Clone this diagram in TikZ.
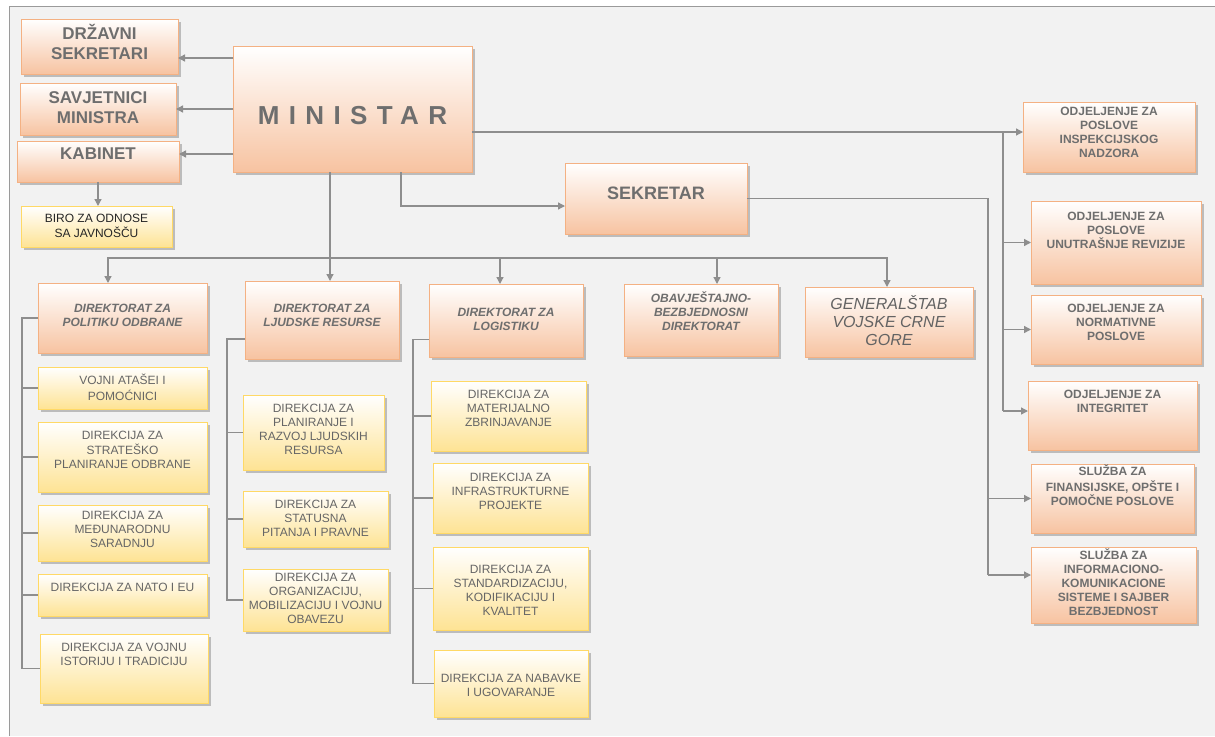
\documentclass[tikz,border=0pt]{standalone}
\usepackage{fontspec}
\setmainfont{Liberation Sans}
\usetikzlibrary{arrows.meta,shadows,calc}
\definecolor{bgc}{HTML}{F2F2F2}
\definecolor{framec}{HTML}{9A9A9A}
\definecolor{linec}{HTML}{8E8E8E}
\definecolor{txt}{HTML}{6E6E6E}
\definecolor{ytxt}{HTML}{666666}
\definecolor{obord}{HTML}{F4B183}
\definecolor{obot}{HTML}{F7C3A1}
\definecolor{ybord}{HTML}{FFD966}
\definecolor{ybot}{HTML}{FEE394}
\definecolor{birotxt}{HTML}{262626}
\newcommand\orgbox[8]{%
  \pgfmathsetmacro\obw{#5-#3}%
  \pgfmathsetmacro\obh{#6-#4}%
  \node[#1] (#2) at (#3,#4) {\parbox[c][\obh pt][t]{\obw pt}{\centering\vspace*{#7pt}\strut #8\par}};%
}
\begin{document}
\begin{tikzpicture}[x=1pt,y=-1pt,
  basebox/.style={anchor=north west, inner sep=0pt, outer sep=0pt, line width=0.9pt,
    drop shadow={shadow xshift=2.5pt, shadow yshift=-2.5pt, fill=black, opacity=0.22}},
  obox/.style={basebox, draw=obord, top color=white, bottom color=obot},
  ybox/.style={basebox, draw=ybord, top color=white, bottom color=ybot},
  ftop/.style={font=\fontsize{17}{20}\selectfont\bfseries, text=txt},
  fmin/.style={font=\fontsize{26}{31}\selectfont\bfseries, text=txt},
  fsek/.style={font=\fontsize{18}{22}\selectfont\bfseries, text=txt},
  fsm/.style={font=\fontsize{12}{14}\selectfont\bfseries, text=txt},
  fit/.style={font=\fontsize{12}{14}\selectfont\bfseries\itshape, text=txt},
  fgen/.style={font=\fontsize{16}{18}\selectfont\itshape, text=txt!90!black},
  fy/.style={font=\fontsize{12}{14}\selectfont, text=ytxt},
  fbiro/.style={font=\fontsize{12}{14}\selectfont, text=birotxt},
  line/.style={draw=linec, line width=1.3pt},
  arr/.style={line, -{Triangle[length=7pt,width=7pt]}}
]
\useasboundingbox (0,0) rectangle (1215,736);
\fill[white] (0,0) rectangle (1215,736);
\fill[bgc] (9,6) rectangle (1215,736);
\draw[framec, line width=1pt] (9,736) -- (9,6) -- (1215,6);

% top-left
\orgbox{obox,ftop}{dsek}{21}{19}{178}{74}{5.1}{DRŽAVNI\\SEKRETARI}
\orgbox{obox,ftop}{sav}{20}{83}{176}{135}{6.1}{SAVJETNICI\\MINISTRA}
\orgbox{obox,ftop}{kab}{17}{141}{179}{182}{4.1}{KABINET}
\orgbox{ybox,fbiro}{biro}{21}{206}{172}{247}{6.5}{BIRO ZA ODNOSE\\SA JAVNOŠČU}
\orgbox{obox,fmin}{min}{233}{46}{472}{172}{56.6}{{\addfontfeature{LetterSpace=36}MINISTAR}}
\orgbox{obox,fsek}{sek}{565}{163}{747}{234}{21}{SEKRETAR}

% right column
\orgbox{obox,fsm}{insp}{1023}{102}{1195}{172}{3.5}{ODJELJENJE ZA\\POSLOVE\\INSPEKCIJSKOG\\NADZORA}
\orgbox{obox,fsm}{unut}{1031}{201}{1201}{284}{9.2}{ODJELJENJE ZA\\POSLOVE\\UNUTRAŠNJE REVIZIJE}
\orgbox{obox,fsm}{norm}{1031}{295}{1201}{364}{7.2}{ODJELJENJE ZA\\NORMATIVNE\\POSLOVE}
\orgbox{obox,fsm}{integ}{1028}{381}{1197}{450}{7.5}{ODJELJENJE ZA\\INTEGRITET}
\orgbox{obox,fsm}{fin}{1031}{464}{1194}{533}{0.5}{SLUŽBA ZA\\FINANSIJSKE, OPŠTE I\\POMOČNE POSLOVE}
\orgbox{obox,fsm}{info}{1031}{547}{1196}{623}{1.5}{SLUŽBA ZA\\INFORMACIONO-\\KOMUNIKACIONE\\SISTEME I SAJBER\\BEZBJEDNOST}

% directorates
\orgbox{obox,fit}{dpo}{38}{283}{207}{353}{19.5}{DIREKTORAT ZA\\POLITIKU ODBRANE}
\orgbox{obox,fit}{dlj}{245}{281}{399}{359}{21.5}{DIREKTORAT ZA\\LJUDSKE RESURSE}
\orgbox{obox,fit}{dlo}{429}{284}{583}{357}{22.5}{DIREKTORAT ZA\\LOGISTIKU}
\orgbox{obox,fit}{dob}{624}{284}{778}{356}{7.5}{OBAVJEŠTAJNO-\\BEZBJEDNOSNI\\DIREKTORAT}
\orgbox{obox,fgen}{gen}{805}{287}{973}{357}{8.1}{GENERALŠTAB\\VOJSKE CRNE\\GORE}

% column 1
\orgbox{ybox,fy}{vat}{38}{367}{207}{409}{7.5}{VOJNI ATAŠEI I\\POMOĆNICI}
\orgbox{ybox,fy}{stp}{38}{422}{207}{492}{7.5}{DIREKCIJA ZA\\STRATEŠKO\\PLANIRANJE ODBRANE}
\orgbox{ybox,fy}{med}{38}{505}{207}{561}{4.5}{DIREKCIJA ZA\\MEĐUNARODNU\\SARADNJU}
\orgbox{ybox,fy}{nat}{38}{574}{207}{616}{7.5}{DIREKCIJA ZA NATO I EU}
\orgbox{ybox,fy}{ist}{40}{634}{208}{703}{7.5}{DIREKCIJA ZA VOJNU\\ISTORIJU I TRADICIJU}
% column 2
\orgbox{ybox,fy}{pla}{243}{395}{384}{470}{7.5}{DIREKCIJA ZA\\PLANIRANJE I\\RAZVOJ LJUDSKIH\\RESURSA}
\orgbox{ybox,fy}{sta}{243}{491}{388}{547}{7.5}{DIREKCIJA ZA\\STATUSNA\\PITANJA I PRAVNE}
\orgbox{ybox,fy}{org}{243}{569}{388}{631}{2.5}{DIREKCIJA ZA\\ORGANIZACIJU,\\MOBILIZACIJU I VOJNU\\OBAVEZU}
% column 3
\orgbox{ybox,fy}{mat}{431}{381}{586}{451}{7.5}{DIREKCIJA ZA\\MATERIJALNO\\ZBRINJAVANJE}
\orgbox{ybox,fy}{inf}{433}{463}{588}{533}{8.5}{DIREKCIJA ZA\\INFRASTRUKTURNE\\PROJEKTE}
\orgbox{ybox,fy}{std}{433}{547}{588}{630}{16.5}{DIREKCIJA ZA\\STANDARDIZACIJU,\\KODIFIKACIJU I\\KVALITET}
\orgbox{ybox,fy}{nab}{434}{650}{588}{717}{22.5}{DIREKCIJA ZA NABAVKE\\I UGOVARANJE}

% connectors: minister to left boxes
\coordinate (a1) at ([yshift=-11.5pt]dsek.east);
\draw[arr] (min.west |- a1) -- (a1);
\draw[arr] (min.west |- sav.east) -- (sav.east);
\coordinate (a3) at ([yshift=7.5pt]kab.east);
\draw[arr] (min.west |- a3) -- (a3);
\draw[arr] (kab.south) -- (kab.south |- biro.north);

% minister down to bus
\coordinate (bus) at (330,258);
\draw[line] (min.south -| bus) -- (bus);
\draw[arr] (bus) -| ([xshift=-14.5pt]dpo.north);
\draw[arr] (bus) -- (bus |- dlj.north);
\draw[arr] (bus) -| ([xshift=-6pt]dlo.north);
\draw[arr] (bus) -| ([xshift=16pt]dob.north);
\draw[arr] (bus) -| ([xshift=-2pt]gen.north);

% minister to sekretar
\draw[arr] ([xshift=48.5pt]min.south) |- ([yshift=-7.5pt]sek.west);

% minister to right column
\coordinate (mr) at ([yshift=-23pt]min.east);
\draw[arr] (mr) -- (mr -| insp.west);
\coordinate (ibt) at (1003,132);
\coordinate (ibb) at (1003,411);
\draw[line] (ibt) -- (ibb);
\draw[arr] (ibt |- unut.west) -- (unut.west);
\draw[arr] (ibt |- norm.west) -- (norm.west);
\draw[arr] (ibb) -- (ibb -| integ.west);

% sekretar to right column
\coordinate (obt) at (988,198.5);
\coordinate (obb) at (988,575);
\draw[line] (sek.east) -- (obt) -- (obb);
\draw[arr] (obt |- fin.west) -- (fin.west);
\draw[arr] (obb) -- (obb -| info.west);

% column spines
\coordinate (s1) at (22,0);
\draw[line] (dpo.west) -- (dpo.west -| s1) -- (ist.west -| s1) -- (ist.west);
\foreach \n in {vat,stp,med,nat} \draw[line] (\n.west -| s1) -- (\n.west);
\coordinate (s2) at (227,0);
\coordinate (t2) at ([yshift=-19pt]dlj.west);
\draw[line] (t2) -- (t2 -| s2) -- (org.west -| s2) -- (org.west);
\foreach \n in {pla,sta} \draw[line] (\n.west -| s2) -- (\n.west);
\coordinate (s3) at (413,0);
\coordinate (t3) at ([yshift=-19pt]dlo.west);
\draw[line] (t3) -- (t3 -| s3) -- (nab.west -| s3) -- (nab.west);
\foreach \n in {mat,inf,std} \draw[line] (\n.west -| s3) -- (\n.west);
\end{tikzpicture}
\end{document}
